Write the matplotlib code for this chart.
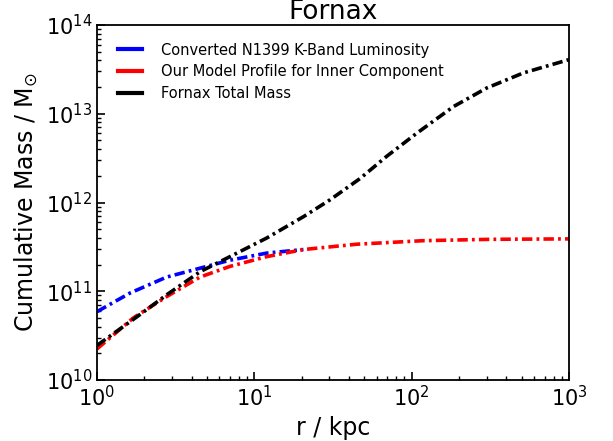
import matplotlib
matplotlib.use('Agg')
import matplotlib.pyplot as plt
from matplotlib.lines import Line2D
import numpy as np

# values (log10 r [kpc], log10 M [Msun])
blue_logr = [0.0, 0.21, 0.443, 0.655, 0.845, 1.079, 1.312]
blue_logm = [10.77, 10.98, 11.16, 11.26, 11.35, 11.43, 11.47]

red_logr = [0.0, 0.231, 0.443, 0.655, 0.845, 1.079, 1.312, 1.651, 2.075, 2.5, 3.0]
red_logm = [10.35, 10.70, 10.94, 11.16, 11.28, 11.39, 11.47, 11.53, 11.57, 11.585, 11.59]

black_logr = [0.0, 0.252, 0.443, 0.655, 0.845, 1.079, 1.312, 1.481, 1.672, 1.841,
              2.032, 2.265, 2.477, 2.71, 3.0]
black_logm = [10.39, 10.71, 10.96, 11.22, 11.39, 11.60, 11.84, 12.03, 12.27, 12.52,
              12.78, 13.08, 13.29, 13.46, 13.61]

labels = ['Converted N1399 K-Band Luminosity',
          'Our Model Profile for Inner Component',
          'Fornax Total Mass']
colors = ['blue', 'red', 'black']

plt.rcParams['lines.scale_dashes'] = False

fig = plt.figure(figsize=(6.13, 4.41), dpi=100)
ax = fig.add_axes([97 / 613, 61 / 441, 472 / 613, 355 / 441])

series = [(blue_logr, blue_logm), (red_logr, red_logm), (black_logr, black_logm)]
for (lr, lm), c in zip(series, colors):
    r = 10 ** np.array(lr)
    m = 10 ** np.array(lm)
    ax.plot(r, m, color=c, lw=2.6, dashes=(7.5, 3, 2, 3))

ax.set_xscale('log')
ax.set_yscale('log')
ax.set_xlim(1, 1e3)
ax.set_ylim(1e10, 1e14)

ax.tick_params(which='both', direction='in', labelsize=15)
ax.tick_params(which='major', length=6, width=1.2)
ax.tick_params(which='minor', length=3, width=1)
for s in ax.spines.values():
    s.set_linewidth(1.3)

ax.set_xlabel('r / kpc', fontsize=17)
ax.set_ylabel(r'Cumulative Mass / M$_{\odot}$', fontsize=17)
ax.set_title('Fornax', fontsize=19, pad=2)

handles = [Line2D([], [], color=c, lw=3) for c in colors]
leg = ax.legend(handles, labels, loc='upper left', frameon=False, fontsize=10.5,
                handlelength=1.6, handletextpad=1.35, borderaxespad=0.8,
                labelspacing=0.45, bbox_to_anchor=(0.008, 1.0))

fig.savefig('out.png', dpi=100)
